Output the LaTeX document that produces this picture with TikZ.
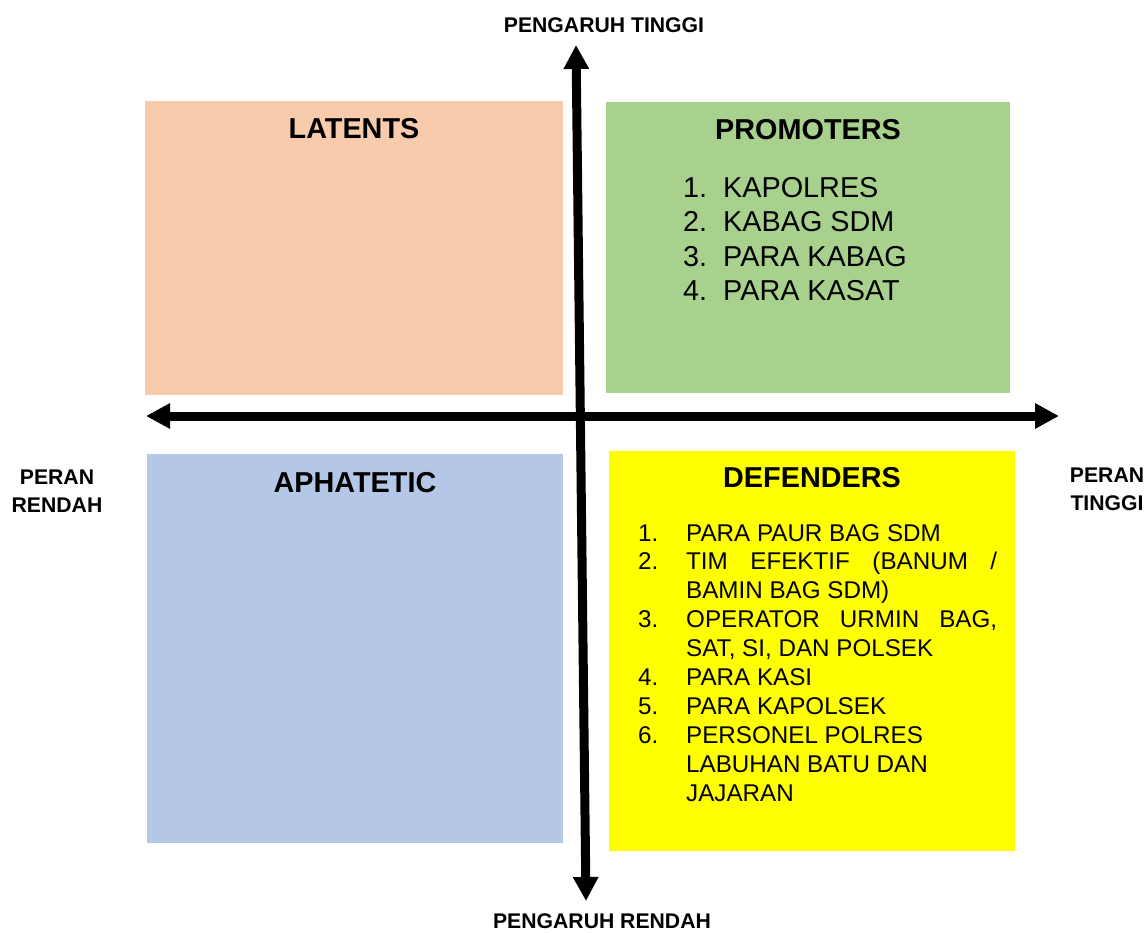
\documentclass[tikz,border=0pt]{standalone}
\usepackage{fontspec}
\setmainfont{Liberation Sans}
\usetikzlibrary{arrows.meta}

\definecolor{latentc}{HTML}{F8CBAD}
\definecolor{promoc}{HTML}{A9D18E}
\definecolor{aphac}{HTML}{B4C7E7}
\definecolor{defc}{HTML}{FFFF00}

\begin{document}
\begin{tikzpicture}[x=1pt,y=-1pt,
  quad/.style={draw=none,inner sep=0pt,anchor=north west},
  qtitle/.style={font=\bfseries\fontsize{28.8}{33}\selectfont,anchor=base,inner sep=0pt},
  axislabel/.style={font=\bfseries\fontsize{21.2}{28}\selectfont,align=center,inner sep=0pt},
  promoitem/.style={font=\fontsize{28.8}{34}\selectfont,anchor=base west,inner sep=0pt},
  defitem/.style={font=\fontsize{24.2}{29}\selectfont,anchor=base west,inner sep=0pt},
  biaxis/.style={line width=9pt,{Triangle[width=24pt,length=24pt]}-{Triangle[width=24pt,length=24pt]}}
]
\useasboundingbox (0,0) rectangle (1147,933);

% quadrants
\node[quad,fill=latentc,minimum width=418pt,minimum height=294pt] (latents) at (145,101) {};
\node[quad,fill=promoc,minimum width=404pt,minimum height=291pt] (promoters) at (606,102) {};
\node[quad,fill=aphac,minimum width=416pt,minimum height=389pt] (aphatetic) at (147,454) {};
\node[quad,fill=defc,minimum width=406pt,minimum height=400pt] (defenders) at (609,451) {};

% axes
\coordinate (top) at (576,45);
\coordinate (bottom) at (586,901);
\coordinate (left) at (146,416);
\coordinate (right) at (1059,416);
\draw[biaxis] (left) -- (right);
\draw[biaxis] (bottom) -- (top);

% axis labels
\node[axislabel,anchor=base] (hi) at (604,33) {PENGARUH TINGGI};
\node[axislabel,anchor=base] (lo) at (602,928) {PENGARUH RENDAH};
\node[axislabel,anchor=north] (pr) at (57,470) {PERAN\\RENDAH};
\node[axislabel,anchor=north] (pt) at (1107,468) {PERAN\\TINGGI};

% quadrant titles
\node[qtitle] (t1) at (354,139) {LATENTS};
\node[qtitle] (t2) at (808,140) {PROMOTERS};
\node[qtitle] (t3) at (355,492) {APHATETIC};
\node[qtitle] (t4) at (812,487) {DEFENDERS};

% promoters list
\foreach \n/\txt [count=\i] in {1/KAPOLRES,2/KABAG SDM,3/PARA KABAG,4/PARA KASAT}
  \node[promoitem] (p\i) at (683,{198+34*(\i-1)}) {\makebox[40pt][l]{\n.}\txt};

% defenders list
\foreach \num/\txt [count=\i] in {
  1./PARA PAUR BAG SDM,
  2./{\hbox to 311pt{TIM\hfill EFEKTIF\hfill (BANUM\hfill /}},
  /BAMIN BAG SDM),
  3./{\hbox to 311pt{OPERATOR\hfill URMIN\hfill BAG,}},
  /{SAT, SI, DAN POLSEK},
  4./PARA KASI,
  5./PARA KAPOLSEK,
  6./PERSONEL POLRES,
  /LABUHAN BATU DAN,
  /JAJARAN}
  \node[defitem] (d\i) at (638,{541+28.9*(\i-1)}) {\makebox[48pt][l]{\num}\txt};
\end{tikzpicture}
\end{document}
